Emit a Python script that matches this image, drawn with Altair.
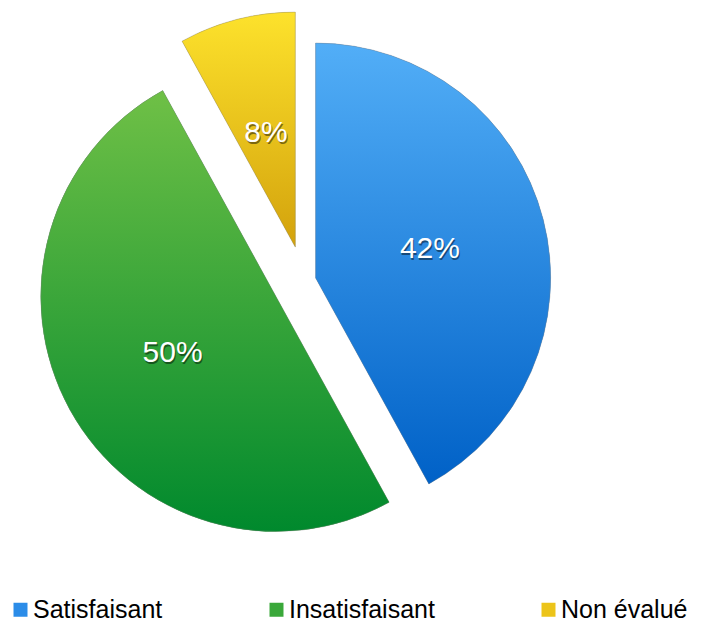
import altair as alt
import pandas as pd

categories = ["Satisfaisant", "Insatisfaisant", "Non évalué"]
values = [42, 50, 8]
labels = ["42%", "50%", "8%"]
order = [0, 1, 2]

df = pd.DataFrame({"category": categories, "value": values, "label": labels, "order": order})

# styling / layout constants
CX, CY = 296, 273          # pie centre (view pixels)
R = 235                    # outer radius
LABEL_R = 118              # radius of percentage labels
explode = {"Satisfaisant": 12, "Insatisfaisant": 32, "Non évalué": 35}
legend_colors = ["#2b8ce8", "#3aa83a", "#ecc41a"]
gradients = {
    "Satisfaisant": ("#52aef7", "#0061c7"),
    "Insatisfaisant": ("#6fc046", "#00892d"),
    "Non évalué": ("#fde22c", "#d3a20c"),
}

explode_expr = ""
for i, (k, v) in enumerate(explode.items()):
    if i < len(explode) - 1:
        explode_expr += f"datum.category === '{k}' ? {v} : "
    else:
        explode_expr += f"{v}"


def base():
    return (
        alt.Chart(df)
        .transform_joinaggregate(total="sum(value)")
        .transform_window(cum="sum(value)", sort=[alt.SortField("order")], frame=[None, 0])
        .transform_calculate(
            f0="(datum.cum - datum.value) / datum.total",
            f1="datum.cum / datum.total",
            mid="(datum.cum - datum.value / 2) / datum.total * 2 * PI",
            ex=explode_expr,
        )
        .transform_calculate(
            cx=f"{CX} + datum.ex * sin(datum.mid)",
            cy=f"{CY} - datum.ex * cos(datum.mid)",
        )
        .transform_calculate(
            lx=f"datum.cx + {LABEL_R} * sin(datum.mid)",
            ly=f"datum.cy - {LABEL_R} * cos(datum.mid)",
        )
    )


theta_scale = alt.Scale(domain=[0, 1])
enc = dict(
    theta=alt.Theta("f0:Q", scale=theta_scale),
    theta2="f1:Q",
    x=alt.X("cx:Q", scale=None, axis=None),
    y=alt.Y("cy:Q", scale=None, axis=None),
)

legend_layer = base().mark_arc(outerRadius=R).encode(
    color=alt.Color(
        "category:N",
        scale=alt.Scale(domain=categories, range=legend_colors),
        sort=categories,
        legend=alt.Legend(
            title=None,
            orient="none",
            legendX=0,
            legendY=589,
            direction="horizontal",
            columnPadding=101,
            symbolType="square",
            symbolSize=196,
            symbolStrokeWidth=0,
            symbolOpacity=1,
            labelFontSize=25,
            labelFont="Liberation Sans",
            labelColor="#000000",
            labelOffset=0,
            labelLimit=0,
            padding=0,
        ),
    ),
    **enc,
)

layers = [legend_layer]
for cat in categories:
    top, bottom = gradients[cat]
    grad = alt.LinearGradient(
        gradient="linear",
        stops=[alt.GradientStop(color=top, offset=0), alt.GradientStop(color=bottom, offset=1)],
        x1=0, x2=0, y1=0, y2=1,
    )
    layers.append(
        base()
        .transform_filter(alt.datum.category == cat)
        .mark_arc(outerRadius=R, fill=grad, stroke="#7a7a7a", strokeWidth=0.6, strokeOpacity=0.6)
        .encode(**enc)
    )

text_enc = dict(
    x=alt.X("lx:Q", scale=None, axis=None),
    y=alt.Y("ly:Q", scale=None, axis=None),
    text="label:N",
)
shadow = base().mark_text(
    font="Liberation Sans", fontSize=30, color="#000000", opacity=0.45, dx=1, dy=2, baseline="middle", align="center"
).encode(**text_enc)
label = base().mark_text(
    font="Liberation Sans", fontSize=30, color="#ffffff", baseline="middle", align="center"
).encode(**text_enc)
layers += [shadow, label]

chart = (
    alt.layer(*layers)
    .properties(width=686, height=610, padding=0, autosize=alt.AutoSizeParams(type="none"))
    .configure_view(stroke=None)
)

chart.save("out.html", embed_options={"renderer": "svg", "actions": False})
